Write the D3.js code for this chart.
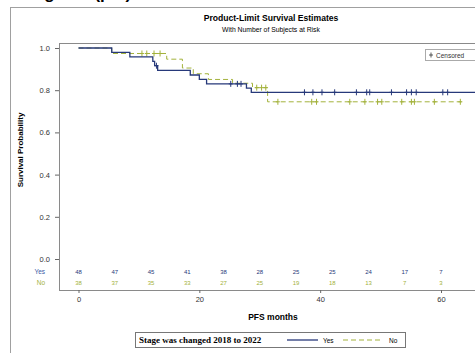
<!DOCTYPE html>
<html>
<head>
<meta charset="utf-8">
<script src="https://cdn.jsdelivr.net/npm/d3@7"></script>
<style>
  body { margin: 0; background: #fff; overflow: hidden; }
  svg { display: block; font-family: "Liberation Sans", Arial, sans-serif; }
</style>
</head>
<body>
<div id="graph"></div>
<script>
// Kaplan-Meier steps: [month, survival]
var yesSteps = [[0, 1.0], [5.5, 0.979], [8.5, 0.958], [12.3, 0.937], [12.6, 0.916], [13.1, 0.894],
  [18.5, 0.872], [20.0, 0.851], [21.2, 0.830], [27.8, 0.810], [28.6, 0.790]];
var yesEnd = 67;
var yesCensor = [12.9, 25.2, 26.3, 26.9, 37.4, 38.8, 40.3, 42.4, 46.0, 47.7, 48.2, 51.8, 54.3, 55.1, 55.9, 60.3, 61.1];

var noSteps = [[0, 1.0], [5.5, 0.974], [14.6, 0.947], [17.2, 0.905], [19.0, 0.878], [21.5, 0.851],
  [25.5, 0.833], [28.8, 0.812], [31.3, 0.745]];
var noEnd = 63.4;
var noCensor = [10.5, 11.3, 12.5, 13.5, 29.5, 30.3, 31.0, 33.0, 38.6, 39.4, 44.9, 47.4, 49.5, 50.2, 53.5, 55.1, 55.6, 58.9, 63.2];

var riskTimes = [0, 6, 12, 18, 24, 30, 36, 42, 48, 54, 60, 66];
var yesRisk = [48, 47, 45, 41, 38, 28, 25, 25, 24, 17, 7, 1];
var noRisk = [38, 37, 35, 33, 27, 25, 19, 18, 13, 7, 3, 0];

var yTicks = [0, 0.2, 0.4, 0.6, 0.8, 1.0];
var xTicks = [0, 20, 40, 60];

var blue = "#27397a", green = "#a3b23c";
var width = 475, height = 353;
var plot = { left: 59, top: 43, right: 487, bottom: 290 };

var svg = d3.select("#graph").append("svg").attr("width", width).attr("height", height);

var xScale = d3.scaleLinear().domain([0, 60]).range([78.5, 441]);
var yScale = d3.scaleLinear().domain([0, 1]).range([259, 48]);

// cut-off heading at the very top
svg.append("text").attr("x", 16).attr("y", -1)
  .style("font-size", "17px").style("font-weight", "bold").text("Progress (pfs)");

// outer frame
svg.append("rect").attr("x", 10.5).attr("y", 7.5).attr("width", 490).attr("height", 360)
  .attr("fill", "none").attr("stroke", "#a0a0a0");

svg.append("text").attr("x", 271).attr("y", 21).attr("text-anchor", "middle")
  .style("font-size", "8.6px").style("font-weight", "bold").text("Product-Limit Survival Estimates");
svg.append("text").attr("x", 271).attr("y", 32).attr("text-anchor", "middle")
  .style("font-size", "6.8px").text("With Number of Subjects at Risk");

// plot frame
svg.append("rect").attr("x", plot.left + 0.5).attr("y", plot.top + 0.5)
  .attr("width", plot.right - plot.left).attr("height", plot.bottom - plot.top)
  .attr("fill", "none").attr("stroke", "#8a8a8a");

svg.append("defs").append("clipPath").attr("id", "clip").append("rect")
  .attr("x", plot.left).attr("y", plot.top).attr("width", plot.right - plot.left).attr("height", plot.bottom - plot.top);

var yAxis = svg.append("g").attr("transform", "translate(" + [plot.left, 0] + ")")
  .call(d3.axisLeft(yScale).tickValues(yTicks).tickFormat(d3.format(".1f")).tickSize(4).tickPadding(5));
var xAxis = svg.append("g").attr("transform", "translate(" + [0, plot.bottom] + ")")
  .call(d3.axisBottom(xScale).tickValues(xTicks).tickSize(3).tickPadding(4));
[yAxis, xAxis].forEach(function(a) {
  a.select(".domain").remove();
  a.selectAll("line").attr("stroke", "#666");
  a.selectAll("text").attr("fill", "#333").style("font-size", "7.5px")
    .style("font-family", "Liberation Sans, Arial, sans-serif");
});

svg.append("text").attr("transform", "translate(23,150) rotate(-90)").attr("text-anchor", "middle")
  .style("font-size", "8px").style("font-weight", "bold").text("Survival Probability");
svg.append("text").attr("x", 273).attr("y", 320).attr("text-anchor", "middle")
  .style("font-size", "8.5px").style("font-weight", "bold").text("PFS months");

var chart = svg.append("g").attr("clip-path", "url(#clip)");

var line = d3.line().curve(d3.curveStepAfter)
  .x(function(d) { return xScale(d[0]); })
  .y(function(d) { return yScale(d[1]); });

function survAt(steps, t) {
  var s = 1;
  steps.forEach(function(d) { if (d[0] <= t) s = d[1]; });
  return s;
}

function drawCurve(steps, end, censor, color, dash, w) {
  var pts = steps.concat([[end, steps[steps.length - 1][1]]]);
  chart.append("path").datum(pts).attr("d", line)
    .attr("fill", "none").attr("stroke", color).attr("stroke-width", w)
    .attr("stroke-dasharray", dash);
  chart.selectAll(null).data(censor).enter().append("path")
    .attr("transform", function(t) { return "translate(" + [xScale(t), yScale(survAt(steps, t))] + ")"; })
    .attr("d", "M0,-3V3M-2,0H2")
    .attr("stroke", color).attr("stroke-width", 1);
}

drawCurve(noSteps, noEnd, noCensor, green, "5,3", 1);
drawCurve(yesSteps, yesEnd, yesCensor, blue, null, 1.3);

// numbers at risk (the last column sits on the window edge, as in the picture)
function riskRow(vals, y, color) {
  chart.selectAll(null).data(vals).enter().append("text")
    .attr("x", function(d, i) { return xScale(riskTimes[i]); })
    .attr("y", y).attr("text-anchor", "middle").attr("fill", color)
    .style("font-size", "6px").text(function(d) { return d; });
}
riskRow(yesRisk, 274, blue);
riskRow(noRisk, 285, green);
svg.append("text").attr("x", 45).attr("y", 274).attr("text-anchor", "end").attr("fill", "#3c5aa6")
  .style("font-size", "6.5px").text("Yes");
svg.append("text").attr("x", 45).attr("y", 285).attr("text-anchor", "end").attr("fill", green)
  .style("font-size", "6.5px").text("No");

// censored inset legend
var cl = svg.append("g").attr("transform", "translate(425,49)");
cl.append("rect").attr("x", 0.5).attr("y", 0.5).attr("width", 58).attr("height", 11)
  .attr("fill", "#fff").attr("stroke", "#aaa");
cl.append("path").attr("d", "M6,3.5V8.5M4,6H8").attr("stroke", "#333").attr("stroke-width", 0.8);
cl.append("text").attr("x", 11).attr("y", 8.5).style("font-size", "6.5px").attr("fill", "#333").text("Censored");

// bottom legend
var lg = svg.append("g").attr("transform", "translate(135,332)");
lg.append("rect").attr("x", 0.5).attr("y", 0.5).attr("width", 270).attr("height", 15)
  .attr("fill", "#fff").attr("stroke", "#777");
lg.append("text").attr("x", 4).attr("y", 10.8).style("font-family", "Liberation Serif, serif")
  .style("font-size", "9px").style("font-weight", "bold").text("Stage was changed 2018 to 2022");
lg.append("line").attr("x1", 152).attr("x2", 183).attr("y1", 8).attr("y2", 8)
  .attr("stroke", blue).attr("stroke-width", 1.3);
lg.append("text").attr("x", 188).attr("y", 10.5).style("font-size", "6.5px").text("Yes");
lg.append("line").attr("x1", 208).attr("x2", 248).attr("y1", 8).attr("y2", 8)
  .attr("stroke", green).attr("stroke-width", 1).attr("stroke-dasharray", "5,3");
lg.append("text").attr("x", 254).attr("y", 10.5).style("font-size", "6.5px").text("No");
</script>
</body>
</html>
